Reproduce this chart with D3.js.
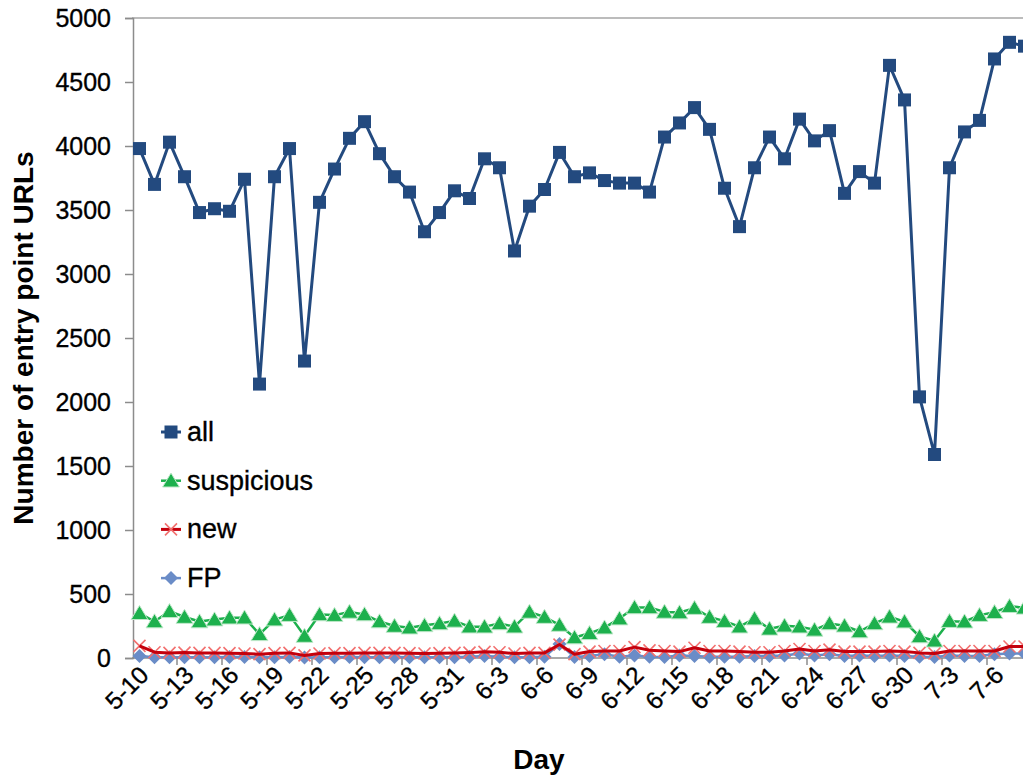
<!DOCTYPE html>
<html>
<head>
<meta charset="utf-8">
<script src="https://cdn.jsdelivr.net/npm/d3@7"></script>
<style>
  html, body { margin: 0; padding: 0; background: #fff; }
  svg { display: block; font-family: "Liberation Sans", Arial, Helvetica, sans-serif; }
  .txt { stroke: #000; stroke-width: 0.35px; }
</style>
</head>
<body>
<svg id="chart" width="1023" height="775"></svg>
<script>
// Days from 5-10 to 7-8
const days = [
  "5-10","5-11","5-12","5-13","5-14","5-15","5-16","5-17","5-18","5-19",
  "5-20","5-21","5-22","5-23","5-24","5-25","5-26","5-27","5-28","5-29",
  "5-30","5-31","6-1","6-2","6-3","6-4","6-5","6-6","6-7","6-8",
  "6-9","6-10","6-11","6-12","6-13","6-14","6-15","6-16","6-17","6-18",
  "6-19","6-20","6-21","6-22","6-23","6-24","6-25","6-26","6-27","6-28",
  "6-29","6-30","7-1","7-2","7-3","7-4","7-5","7-6","7-7","7-8"
];

const allUrls = [
  3980,3700,4030,3760,3480,3510,3490,3740,2140,3760,
  3980,2320,3560,3820,4060,4190,3940,3760,3640,3330,
  3480,3650,3590,3900,3830,3180,3530,3660,3950,3760,
  3790,3730,3710,3710,3640,4070,4180,4300,4130,3670,
  3370,3830,4070,3900,4210,4040,4120,3630,3800,3710,
  4630,4360,2040,1590,3830,4110,4200,4680,4810,4780
];

const suspicious = [
  350,285,365,320,285,300,315,315,185,300,
  335,172,340,335,360,340,285,250,237,255,
  270,290,245,245,270,245,360,320,258,160,
  193,237,308,395,395,360,355,390,320,288,
  245,308,228,252,245,220,270,252,207,270,
  322,284,168,135,288,284,335,357,405,392
];

const newUrls = [
  95,45,40,42,40,40,38,35,30,38,
  40,20,35,38,38,40,40,40,38,35,
  38,40,42,48,45,35,40,40,105,30,
  50,55,55,85,60,55,50,80,55,55,
  50,45,45,55,70,55,65,50,50,50,
  55,50,40,35,55,55,55,55,90,90
];

const fp = [
  15,5,5,5,5,5,8,8,5,5,
  8,3,5,5,8,5,5,8,5,5,
  5,5,10,15,10,5,5,10,110,8,
  15,30,10,20,10,8,20,15,10,10,
  10,15,15,20,35,20,30,15,20,15,
  20,15,10,8,20,15,15,30,35,35
];

const yTicks = [0,500,1000,1500,2000,2500,3000,3500,4000,4500,5000];
const labelEvery = 3;

const svg = d3.select("#chart");
const plot = { left: 132, top: 18, bottom: 658, band: 15 };

const x = d3.scaleBand()
  .domain(days)
  .range([plot.left, plot.left + plot.band * days.length])
  .paddingInner(0).paddingOuter(0);
const cx = d => x(d) + x.bandwidth() / 2;

const y = d3.scaleLinear().domain([0, 5000]).range([plot.bottom, plot.top]);

// Top frame line of the plot area
svg.append("line")
  .attr("x1", plot.left).attr("x2", 1023)
  .attr("y1", plot.top).attr("y2", plot.top)
  .attr("stroke", "#a6a6a6").attr("stroke-width", 1.5);

// Y axis
const yAxis = svg.append("g")
  .attr("transform", `translate(${plot.left + 1},0)`)
  .call(d3.axisLeft(y).tickValues(yTicks).tickSize(8).tickPadding(14).tickFormat(d3.format("d")));
yAxis.select(".domain").attr("stroke", "#8c8c8c").attr("stroke-width", 1.5);
yAxis.selectAll(".tick line").attr("stroke", "#8c8c8c").attr("stroke-width", 1.5);
yAxis.selectAll(".tick text")
  .attr("class", "txt")
  .attr("font-size", 25).attr("fill", "#000")
  .attr("font-family", "'Liberation Sans', Arial, sans-serif");

// X axis line and ticks (between categories, every third day)
const xg = svg.append("g");
xg.append("line")
  .attr("x1", plot.left).attr("x2", 1023)
  .attr("y1", plot.bottom).attr("y2", plot.bottom)
  .attr("stroke", "#8c8c8c").attr("stroke-width", 1.5);
const labelDays = days.filter((d, i) => i % labelEvery === 0);
xg.selectAll("line.tick")
  .data(labelDays.slice(1))
  .join("line")
  .attr("class", "tick")
  .attr("x1", d => x(d)).attr("x2", d => x(d))
  .attr("y1", plot.bottom).attr("y2", plot.bottom + 7)
  .attr("stroke", "#8c8c8c").attr("stroke-width", 1.5);
xg.selectAll("text.lbl")
  .data(labelDays)
  .join("text")
  .attr("class", "lbl txt")
  .attr("transform", d => `translate(${cx(d) + 6},${plot.bottom + 14}) rotate(-45)`)
  .attr("text-anchor", "end")
  .attr("dominant-baseline", "middle")
  .attr("font-size", 24.5)
  .attr("fill", "#000")
  .text(d => d);

// Marker shapes
const markerPath = {
  square: s => `M${-s/2},${-s/2}h${s}v${s}h${-s}Z`,
  triangle: s => `M0,${-s*0.55}L${s*0.6},${s*0.45}L${-s*0.6},${s*0.45}Z`,
  cross: s => `M${-s/2},${-s/2}L${s/2},${s/2}M${s/2},${-s/2}L${-s/2},${s/2}`,
  diamond: s => `M0,${-s/2}L${s/2},0L0,${s/2}L${-s/2},0Z`
};

const series = [
  { name: "all", values: allUrls, line: "#234a7f", lw: 3, marker: "square", size: 13, fill: "#234a7f", stroke: "none" },
  { name: "suspicious", values: suspicious, line: "#1db04d", lw: 2.5, marker: "triangle", size: 14, fill: "#1db04d", stroke: "#bfe8c9" },
  { name: "FP", values: fp, line: "#6a8cc7", lw: 2.5, marker: "diamond", size: 14, fill: "#6a8cc7", stroke: "none" },
  { name: "new", values: newUrls, line: "#c4000c", lw: 3, marker: "cross", size: 12, fill: "none", stroke: "#f2706f" }
];

const lineGen = d3.line().x(d => cx(d.day)).y(d => y(d.v));

series.forEach(s => {
  const pts = days.map((d, i) => ({ day: d, v: s.values[i] }));
  const g = svg.append("g").attr("class", "series-" + s.name);
  if (s.marker === "cross") {
    g.selectAll("path.m").data(pts).join("path")
      .attr("class", "m")
      .attr("transform", d => `translate(${cx(d.day)},${y(d.v)})`)
      .attr("d", markerPath.cross(s.size))
      .attr("stroke", s.stroke).attr("stroke-width", 1.6).attr("fill", "none");
    g.append("path").datum(pts)
      .attr("d", lineGen).attr("fill", "none")
      .attr("stroke", s.line).attr("stroke-width", s.lw).attr("stroke-linejoin", "round");
  } else {
    g.append("path").datum(pts)
      .attr("d", lineGen).attr("fill", "none")
      .attr("stroke", s.line).attr("stroke-width", s.lw).attr("stroke-linejoin", "round");
    g.selectAll("path.m").data(pts).join("path")
      .attr("class", "m")
      .attr("transform", d => `translate(${cx(d.day)},${y(d.v)})`)
      .attr("d", markerPath[s.marker](s.size))
      .attr("fill", s.fill)
      .attr("stroke", s.stroke).attr("stroke-width", 1);
  }
});

// Legend
const legendOrder = ["all", "suspicious", "new", "FP"];
const legend = svg.append("g").attr("transform", "translate(161,432)");
legendOrder.forEach((name, i) => {
  const s = series.find(e => e.name === name);
  const g = legend.append("g").attr("transform", `translate(0,${i * 48.7})`);
  g.append("line").attr("x1", 0).attr("x2", 20).attr("y1", 0).attr("y2", 0)
    .attr("stroke", s.line).attr("stroke-width", s.lw);
  g.append("path")
    .attr("transform", "translate(10,0)")
    .attr("d", markerPath[s.marker](s.size))
    .attr("fill", s.fill)
    .attr("stroke", s.stroke)
    .attr("stroke-width", s.marker === "cross" ? 1.6 : 1);
  g.append("text")
    .attr("class", "txt")
    .attr("x", 26).attr("y", 0)
    .attr("dominant-baseline", "central")
    .attr("font-size", 27).attr("fill", "#000")
    .text(name);
});

// Axis titles
svg.append("text")
  .attr("transform", "translate(33,338) rotate(-90)")
  .attr("text-anchor", "middle")
  .attr("font-size", 28).attr("font-weight", "bold").attr("fill", "#000")
  .text("Number of entry point URLs");

svg.append("text")
  .attr("x", 539).attr("y", 769)
  .attr("text-anchor", "middle")
  .attr("font-size", 28).attr("font-weight", "bold").attr("fill", "#000")
  .text("Day");
</script>
</body>
</html>
